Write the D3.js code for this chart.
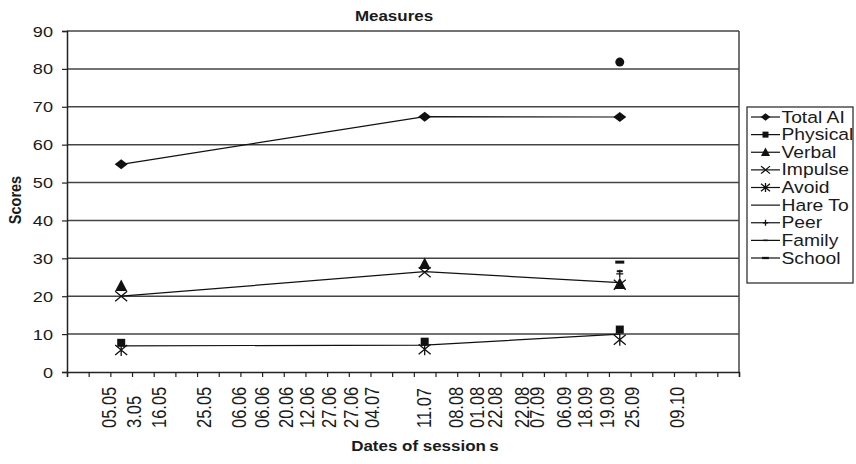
<!DOCTYPE html>
<html>
<head>
<meta charset="utf-8">
<script src="https://cdn.jsdelivr.net/npm/d3@7"></script>
<style>
  html, body { margin: 0; padding: 0; background: #fff; }
  svg { display: block; font-family: "Liberation Sans", Arial, sans-serif; }
</style>
</head>
<body>
<svg id="chart" width="856" height="464"></svg>
<script>
// ---------------- data ----------------
const chartTitle = "Measures";
const yTitle = "Scores";
const xTitle = "Dates of sessions";
const categoryCount = 31;            // slots on the category axis
const sessionSlots = [2, 16, 25];    // slot index of each session
const yTicks = [0, 10, 20, 30, 40, 50, 60, 70, 80, 90];

// date labels and where they sit on the category axis (in slot units)
const dateLabels = ["05.05", "3.05", "16.05", "25.05", "06.06", "06.06", "20.06", "12.06", "27.06", "27.06", "04.07",
                    "11.07", "08.08", "01.08", "22.08", "22.08", "07.09", "06.09", "18.09", "19.09", "25.09", "09.10"];
const dateLabelSlots = [1.98, 3.13, 4.28, 6.36, 7.97, 9.04, 10.12, 11.11, 12.11, 13.11, 14.11,
                        16.49, 17.95, 18.95, 19.79, 21.02, 21.71, 22.94, 23.94, 24.93, 26.08, 28.16];

const seriesNames = ["Total AI", "Physical", "Verbal", "Impulse", "Avoid", "Hare To", "Peer", "Family", "School"];
const totalAI  = [54.8, 67.4, 67.3];
const physical = [7.7, 8.0, 11.2];
const verbal   = [22.7, 28.5, 23.2];
const impulse  = [20.0, 26.3, 23.0];
const avoid    = [5.8, 6.0, 8.5];
const hareTo   = [null, null, 81.8];
const peer     = [null, null, 25.9];
const family   = [null, null, 26.6];
const school   = [null, null, 29.0];
// connecting lines as they appear in the picture
const totalAILine = [54.8, 67.4, 67.3];
const upperLine   = [20.0, 26.5, 23.6];
const lowerLine   = [6.9, 7.1, 10.0];

// ---------------- layout ----------------
const svg = d3.select("#chart");
const M = { left: 67, right: 739, top: 31, bottom: 372 };
const SX = 1.17;   // horizontal stretch of the lettering

const x = d3.scaleLinear().domain([0, categoryCount]).range([M.left, M.right]);
const y = d3.scaleLinear().domain([0, 90]).range([M.bottom, M.top]);
const slotX = i => x(i + 0.5);

function stretched(sel, tx, ty, rot) {
  return sel.attr("transform", `translate(${tx},${ty}) scale(${SX},1)` + (rot ? ` rotate(${rot})` : ""));
}

// gridlines
svg.append("g").selectAll("line").data(yTicks.filter(v => v > 0)).join("line")
  .attr("x1", M.left).attr("x2", M.right)
  .attr("y1", d => y(d)).attr("y2", d => y(d))
  .attr("stroke", "#444").attr("stroke-width", 1.5);

// plot border right
svg.append("line").attr("x1", M.right).attr("x2", M.right).attr("y1", M.top).attr("y2", M.bottom)
  .attr("stroke", "#444").attr("stroke-width", 1.5);

// y axis
const yAxis = d3.axisLeft(y).tickValues(yTicks).tickSize(5).tickFormat(d3.format("d"));
const gy = svg.append("g").attr("transform", `translate(${M.left},0)`).call(yAxis);
gy.select(".domain").attr("stroke", "#222").attr("stroke-width", 1.5);
gy.selectAll(".tick line").attr("stroke", "#222").attr("stroke-width", 1.2);
gy.selectAll(".tick text").remove();
gy.selectAll(".tick").each(function(d) {
  const t = d3.select(this).append("text")
    .attr("font-size", 15.5).attr("fill", "#1a1a1a").attr("text-anchor", "end")
    .attr("dominant-baseline", "central").text(d);
  stretched(t, -14, 0);
});

// x axis (ticks between slots)
const xAxis = d3.axisBottom(x).tickValues(d3.range(0, categoryCount + 1)).tickSize(5).tickFormat("");
const gx = svg.append("g").attr("transform", `translate(0,${M.bottom})`).call(xAxis);
gx.select(".domain").attr("stroke", "#222").attr("stroke-width", 1.5);
gx.selectAll(".tick line").attr("stroke", "#222").attr("stroke-width", 1.2);

// date labels (rotated, read bottom to top)
svg.append("g").selectAll("text").data(dateLabels).join("text")
  .attr("font-size", 16.5).attr("fill", "#1a1a1a")
  .attr("text-anchor", "start").attr("dominant-baseline", "central")
  .each(function(d, i) { stretched(d3.select(this), x(dateLabelSlots[i]), 428, -90); })
  .text(d => d);

// titles
stretched(svg.append("text").attr("font-size", 14.5).attr("font-weight", "bold").attr("fill", "#1a1a1a")
  .attr("text-anchor", "middle").text(chartTitle), 394, 20.5);

stretched(svg.append("text").attr("font-size", 14.5).attr("font-weight", "bold").attr("fill", "#1a1a1a")
  .attr("text-anchor", "middle").attr("dominant-baseline", "central").text(yTitle), 15, 200, -90);

const xt = svg.append("text").attr("font-size", 14.5).attr("font-weight", "bold").attr("fill", "#1a1a1a")
  .attr("text-anchor", "middle");
xt.append("tspan").text(xTitle.slice(0, -1));
xt.append("tspan").attr("dx", 3).text(xTitle.slice(-1));
stretched(xt, 425, 451);

// ---------------- markers ----------------
const markers = {
  diamond: (g, s) => g.append("path").attr("d", `M${-6.5*s},0L0,${-5*s}L${6.5*s},0L0,${5*s}Z`).attr("fill", "#111"),
  square: (g, s) => g.append("rect").attr("x", -4*s).attr("y", -4*s).attr("width", 8*s).attr("height", 8*s).attr("fill", "#111"),
  triangle: (g, s) => g.append("path").attr("d", `M0,${-6.5*s}L${6*s},${5*s}L${-6*s},${5*s}Z`).attr("fill", "#111"),
  cross: (g, s) => g.append("path").attr("d", `M${-6*s},${-5*s}L${6*s},${5*s}M${-6*s},${5*s}L${6*s},${-5*s}`).attr("stroke", "#111").attr("stroke-width", 1.3),
  asterisk: (g, s) => g.append("path").attr("d", `M${-6*s},${-5*s}L${6*s},${5*s}M${-6*s},${5*s}L${6*s},${-5*s}M0,${-6*s}L0,${6*s}`).attr("stroke", "#111").attr("stroke-width", 1.3),
  circle: (g, s) => g.append("circle").attr("r", 4.5*s).attr("fill", "#111"),
  plus: (g, s) => g.append("path").attr("d", `M${-3.5*s},0L${3.5*s},0M0,${-4*s}L0,${4*s}`).attr("stroke", "#111").attr("stroke-width", 1.3),
  shortdash: (g, s) => g.append("rect").attr("x", -3*s).attr("y", -1*s).attr("width", 6*s).attr("height", 2*s).attr("fill", "#111"),
  dash: (g, s) => g.append("rect").attr("x", -4.5*s).attr("y", -1.5*s).attr("width", 9*s).attr("height", 3*s).attr("fill", "#111"),
  none: () => {}
};

const series = [
  { name: seriesNames[0], values: totalAI,  marker: "diamond" },
  { name: seriesNames[1], values: physical, marker: "square" },
  { name: seriesNames[2], values: verbal,   marker: "triangle" },
  { name: seriesNames[3], values: impulse,  marker: "cross" },
  { name: seriesNames[4], values: avoid,    marker: "asterisk" },
  { name: seriesNames[5], values: hareTo,   marker: "circle", legendMarker: "none" },
  { name: seriesNames[6], values: peer,     marker: "plus" },
  { name: seriesNames[7], values: family,   marker: "shortdash" },
  { name: seriesNames[8], values: school,   marker: "dash" }
];

// lines
const line = d3.line().defined(d => d != null).x((d, i) => slotX(sessionSlots[i])).y(d => y(d));
[totalAILine, upperLine, lowerLine].forEach(vals => {
  svg.append("path").attr("d", line(vals)).attr("fill", "none").attr("stroke", "#111").attr("stroke-width", 1.2);
});

// points
series.forEach(s => {
  s.values.forEach((v, i) => {
    if (v == null) return;
    const g = svg.append("g").attr("transform", `translate(${slotX(sessionSlots[i])},${y(v)})`);
    markers[s.marker](g, 1);
  });
});

// ---------------- legend ----------------
const lg = svg.append("g");
lg.append("rect").attr("x", 747).attr("y", 107).attr("width", 106).attr("height", 176)
  .attr("fill", "#fff").attr("stroke", "#333").attr("stroke-width", 1.3);
const ly = d3.scaleLinear().domain([0, 8]).range([117, 258]);
series.forEach((s, i) => {
  const yy = ly(i);
  lg.append("line").attr("x1", 751).attr("x2", 780).attr("y1", yy).attr("y2", yy)
    .attr("stroke", "#111").attr("stroke-width", 1.2);
  const g = lg.append("g").attr("transform", `translate(765.5,${yy})`);
  markers[s.legendMarker || s.marker](g, 0.75);
  stretched(lg.append("text").attr("font-size", 16.5).attr("fill", "#1a1a1a")
    .attr("dominant-baseline", "central").text(s.name), 781.5, yy);
});
</script>
</body>
</html>
